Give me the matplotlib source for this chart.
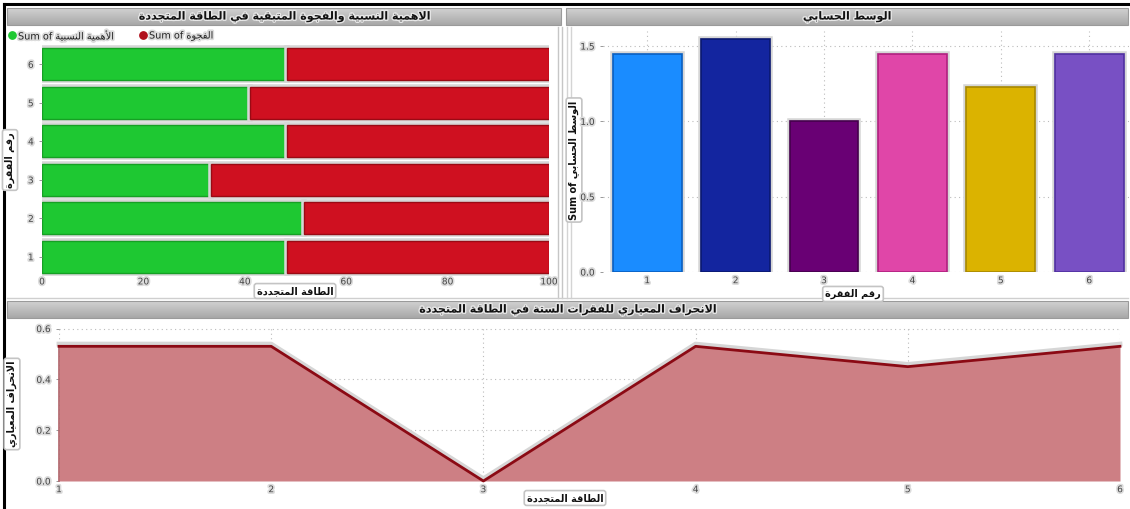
import matplotlib
matplotlib.use('Agg')
import matplotlib.pyplot as plt
import matplotlib.patheffects as pe
from matplotlib.patches import Rectangle
import numpy as np

plt.rcParams['font.family'] = ['DejaVu Sans']

# ---------------- data ----------------
items = [1, 2, 3, 4, 5, 6]
mean_vals = [1.45, 1.55, 1.00, 1.45, 1.23, 1.45]
importance = [48.33, 51.67, 33.33, 48.33, 41.00, 48.33]
gap = [51.67, 48.33, 66.67, 51.67, 59.00, 51.67]
std_vals = [0.53, 0.53, 0.00, 0.53, 0.45, 0.53]
bar_colors = ['#1a8cff', '#13259f', '#690074', '#e046a8', '#dbb300', '#7850c4']
bar_edges = ['#0a5fc0', '#0a1870', '#44004c', '#b02080', '#a88800', '#5030a0']

# ---------------- arabic shaping ----------------
FORMS = {
    'ا': (0xFE8D, 0xFE8E, None, None), 'أ': (0xFE83, 0xFE84, None, None),
    'إ': (0xFE87, 0xFE88, None, None), 'ب': (0xFE8F, 0xFE90, 0xFE91, 0xFE92),
    'ة': (0xFE93, 0xFE94, None, None), 'ت': (0xFE95, 0xFE96, 0xFE97, 0xFE98),
    'ج': (0xFE9D, 0xFE9E, 0xFE9F, 0xFEA0), 'ح': (0xFEA1, 0xFEA2, 0xFEA3, 0xFEA4),
    'د': (0xFEA9, 0xFEAA, None, None), 'ر': (0xFEAD, 0xFEAE, None, None),
    'س': (0xFEB1, 0xFEB2, 0xFEB3, 0xFEB4), 'ط': (0xFEC1, 0xFEC2, 0xFEC3, 0xFEC4),
    'ع': (0xFEC9, 0xFECA, 0xFECB, 0xFECC), 'ف': (0xFED1, 0xFED2, 0xFED3, 0xFED4),
    'ق': (0xFED5, 0xFED6, 0xFED7, 0xFED8), 'ل': (0xFEDD, 0xFEDE, 0xFEDF, 0xFEE0),
    'م': (0xFEE1, 0xFEE2, 0xFEE3, 0xFEE4), 'ن': (0xFEE5, 0xFEE6, 0xFEE7, 0xFEE8),
    'ه': (0xFEE9, 0xFEEA, 0xFEEB, 0xFEEC), 'و': (0xFEED, 0xFEEE, None, None),
    'ي': (0xFEF1, 0xFEF2, 0xFEF3, 0xFEF4),
}
LAM_ALEF = {'ا': (0xFEFB, 0xFEFC), 'أ': (0xFEF7, 0xFEF8), 'إ': (0xFEF9, 0xFEFA)}


def ar(text):
    chars = list(text)
    toks = []
    i = 0
    while i < len(chars):
        c = chars[i]
        if c == 'ل' and i + 1 < len(chars) and chars[i + 1] in LAM_ALEF:
            toks.append(('LA', chars[i + 1]))
            i += 2
        else:
            toks.append(('C', c))
            i += 1

    def joins_next(t):
        if t[0] == 'LA':
            return False
        f = FORMS.get(t[1])
        return f is not None and f[2] is not None

    def is_ar(t):
        return t[0] == 'LA' or t[1] in FORMS

    out = []
    for k, t in enumerate(toks):
        prev = toks[k - 1] if k > 0 else None
        nxt = toks[k + 1] if k + 1 < len(toks) else None
        cp = prev is not None and joins_next(prev)
        if t[0] == 'LA':
            iso, fin = LAM_ALEF[t[1]]
            out.append(chr(fin if cp else iso))
            continue
        c = t[1]
        if c not in FORMS:
            out.append(c)
            continue
        iso, fin, ini, med = FORMS[c]
        cn = nxt is not None and is_ar(nxt) and ini is not None
        if cp and cn:
            out.append(chr(med))
        elif cp:
            out.append(chr(fin))
        elif cn:
            out.append(chr(ini))
        else:
            out.append(chr(iso))
    return ''.join(out)[::-1]


title_tl = ar('الاهمية النسبية والفجوة المتبقية في الطاقة المتجددة')
title_tr = ar('الوسط الحسابي')
title_b = ar('الانحراف المعياري للفقرات الستة في الطاقة المتجددة')
leg_imp = 'Sum of ' + ar('الأهمية النسبية')
leg_gap = 'Sum of ' + ar('الفجوة')
lab_item = ar('رقم الفقرة')
lab_energy = ar('الطاقة المتجددة')
lab_mean = 'Sum of ' + ar('الوسط الحسابي')
lab_std = ar('الانحراف المعياري')

# ---------------- figure ----------------
W, H = 1130, 509
fig = plt.figure(figsize=(W / 100, H / 100), dpi=100)
fig.patch.set_facecolor('white')

bg = fig.add_axes([0, 0, 1, 1], zorder=-5)
bg.set_xlim(0, W)
bg.set_ylim(H, 0)
bg.axis('off')

grad = np.linspace(0.82, 0.66, 20).reshape(-1, 1)


def title_bar(x0, x1, y0, y1, text):
    bg.imshow(np.dstack([grad, grad, grad]), extent=(x0, x1, y1, y0), aspect='auto', zorder=1)
    bg.add_patch(Rectangle((x0, y0), x1 - x0, y1 - y0, fill=False, ec='#9a9a9a', lw=0.8, zorder=2))
    bg.text((x0 + x1) / 2, (y0 + y1) / 2 + 0.5, text, ha='center', va='center', fontsize=8,
            fontweight='bold', color='#111111', zorder=3,
            path_effects=[pe.withStroke(linewidth=2, foreground='#e6e6e6')])


title_bar(7, 561, 8, 25, title_tl)
title_bar(566, 1128, 8, 25, title_tr)
title_bar(7, 1128, 301, 318, title_b)

# frame and separators
bg.plot([4, W], [4, 4], color='black', lw=2.2, zorder=4)
bg.plot([4, 4], [4, H], color='black', lw=2.2, zorder=4)
for xs in (558, 562):
    bg.plot([xs, xs], [27, 298], color='#c6c6c6', lw=1, zorder=2)
for xs in (567, 571):
    bg.plot([xs, xs], [27, 298], color='#d4d4d4', lw=1, zorder=2)
bg.plot([7, 1128], [298, 298], color='#cfcfcf', lw=1, zorder=2)

halo = [pe.withStroke(linewidth=2.5, foreground='#dcdcdc')]
lab_box = dict(boxstyle='round,pad=0.25', fc='white', ec='#c4c4c4', lw=1.2)

# legend
bg.scatter([12], [35], s=28, color='#1ec832', zorder=5)
bg.text(18, 35.5, leg_imp, ha='left', va='center', fontsize=7, color='#222222', zorder=5,
        path_effects=halo)
bg.scatter([143], [35], s=28, color='#b0101c', zorder=5)
bg.text(149, 35.5, leg_gap, ha='left', va='center', fontsize=7, color='#222222', zorder=5,
        path_effects=halo)


def ax_px(x0, y0, x1, y1):
    return fig.add_axes([x0 / W, 1 - y1 / H, (x1 - x0) / W, (y1 - y0) / H])


def style_ticks(ax):
    for s in ax.spines.values():
        s.set_visible(False)
    ax.tick_params(labelsize=6.5, colors='#888888', labelcolor='#444444', length=2.5, width=0.6)
    for lbl in ax.get_xticklabels() + ax.get_yticklabels():
        lbl.set_path_effects(halo)


bar_fx = [pe.Stroke(linewidth=4, foreground='#d6d6d6'), pe.Normal()]

# ---------------- top-left: stacked horizontal bars ----------------
ax1 = ax_px(42, 45, 549, 276)
ax1.set_xlim(0, 100)
ax1.set_ylim(0.5, 6.5)
b1 = ax1.barh(items, importance, height=0.82, color='#1ec832', edgecolor='#16a024', lw=1.0)
b2 = ax1.barh(items, gap, left=importance, height=0.82, color='#cf1020', edgecolor='#9a0a14', lw=1.0)
for r in list(b1) + list(b2):
    r.set_path_effects(bar_fx)
ax1.set_xticks([0, 20, 40, 60, 80, 100])
ax1.set_yticks(items)
style_ticks(ax1)
ax1.tick_params(axis='x', length=0, pad=1)
bg.text(10, 160, lab_item, rotation=90, ha='center', va='center', fontsize=7, fontweight='bold',
        color='#111111', bbox=lab_box, zorder=6)
bg.text(295, 291, lab_energy, ha='center', va='center', fontsize=7, fontweight='bold',
        color='#111111', bbox=lab_box, zorder=6)

# ---------------- top-right: mean bars ----------------
ax2 = ax_px(603, 31, 1129, 272)
ax2.set_xlim(0.5, 6.45)
ax2.set_ylim(0, 1.6)
ax2.set_yticks([0.0, 0.5, 1.0, 1.5])
ax2.set_yticklabels(['0.0', '0.5', '1.0', '1.5'])
ax2.set_xticks(items)
ax2.grid(True, color='#bbbbbb', linestyle=(0, (1, 3)), lw=0.8)
ax2.set_axisbelow(True)
bars = ax2.bar(items, mean_vals, width=0.78, color=bar_colors, edgecolor=bar_edges, lw=1.2)
for r in bars:
    r.set_path_effects(bar_fx)
style_ticks(ax2)
ax2.tick_params(axis='x', length=0, pad=3)
bg.text(574, 160, lab_mean, rotation=90, ha='center', va='center', fontsize=7, fontweight='bold',
        color='#111111', bbox=lab_box, zorder=6)
bg.text(853, 294, lab_item, ha='center', va='center', fontsize=7, fontweight='bold',
        color='#111111', bbox=lab_box, zorder=6)

# ---------------- bottom: std area ----------------
ax3 = ax_px(59, 326, 1120, 481)
ax3.set_xlim(1, 6)
ax3.set_ylim(0, 0.61)
ax3.set_xticks(items)
ax3.set_yticks([0.0, 0.2, 0.4, 0.6])
ax3.set_yticklabels(['0.0', '0.2', '0.4', '0.6'])
ax3.grid(True, color='#bbbbbb', linestyle=(0, (1, 3)), lw=0.8)
ax3.set_axisbelow(True)
ax3.fill_between(items, std_vals, 0, color='#cd7f84', lw=0, zorder=2)
ax3.plot([1, 1], [0, std_vals[0]], color='#b0646a', lw=1.2, zorder=2, clip_on=False)
ax3.plot(items, std_vals, color='#8b0a14', lw=2, zorder=3, clip_on=False,
         path_effects=[pe.Stroke(offset=(0, 1.6), linewidth=3.5, foreground='#d6d6d6'),
                       pe.Normal()])
style_ticks(ax3)
ax3.tick_params(axis='x', length=0, pad=3)
bg.text(12, 404, lab_std, rotation=90, ha='center', va='center', fontsize=7, fontweight='bold',
        color='#111111', bbox=lab_box, zorder=6)
bg.text(565, 498, lab_energy, ha='center', va='center', fontsize=7, fontweight='bold',
        color='#111111', bbox=lab_box, zorder=6)

fig.savefig('out.png', dpi=100)
